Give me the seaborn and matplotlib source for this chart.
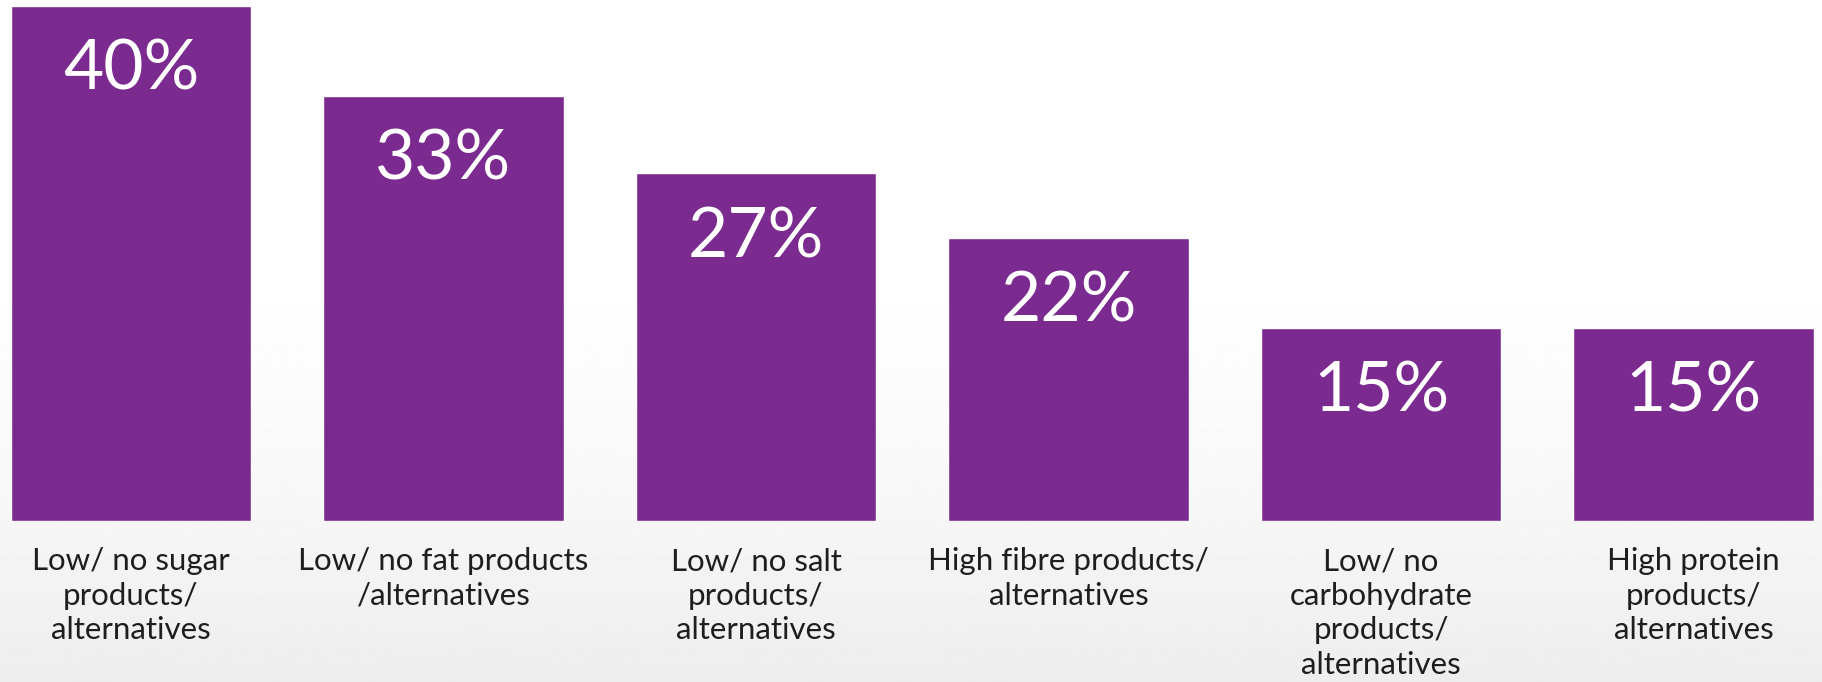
import numpy as np
import pandas as pd
import matplotlib

matplotlib.use('Agg')
import matplotlib.pyplot as plt
import seaborn as sns

# 数据
categories = [
    "Low/ no sugar\nproducts/\nalternatives",
    "Low/ no fat products\n/alternatives",
    "Low/ no salt\nproducts/\nalternatives",
    "High fibre products/\nalternatives",
    "Low/ no\ncarbohydrate\nproducts/\nalternatives",
    "High protein\nproducts/\nalternatives",
]
values = [40, 33, 27, 22, 15, 15]
value_labels = ["40%", "33%", "27%", "22%", "15%", "15%"]

bar_color = "#7b2a90"
text_color = "#1e1e1e"

sns.set_style("white")
plt.rcParams['font.family'] = ['Lato', 'DejaVu Sans']

df = pd.DataFrame({"category": categories, "value": values})

fig = plt.figure(figsize=(18.22, 6.82), dpi=100)

# 背景: 底部浅灰渐变
bg = fig.add_axes([0, 0, 1, 1], zorder=0)
grad = np.linspace(0, 1, 256).reshape(-1, 1)
grad = np.clip((grad - 0.35) / 0.65, 0, 1) ** 1.5
bg.imshow(1 - 0.07 * grad, cmap="gray", vmin=0, vmax=1, aspect="auto",
          extent=[0, 1, 0, 1], origin="upper")
bg.axis("off")

ax = fig.add_axes([0, 161 / 682, 1, 515 / 682], zorder=1)
ax.patch.set_alpha(0)
sns.barplot(data=df, x="category", y="value", color=bar_color, width=0.77,
            saturation=1, ax=ax)

for i, (v, lab) in enumerate(zip(values, value_labels)):
    ax.text(i, v - 5, lab, ha="center", va="center", color="white",
            fontsize=50, fontweight="normal")

ax.set_xlim(-0.419, 5.411)
ax.set_ylim(0, 40)
ax.set_xlabel("")
ax.set_ylabel("")
ax.set_yticks([])
ax.tick_params(axis="x", length=0, pad=19, labelsize=22.5, labelcolor=text_color)
for t in ax.get_xticklabels():
    t.set_multialignment("center")
    t.set_linespacing(1.28)
sns.despine(ax=ax, left=True, bottom=True)

plt.savefig("out.png", dpi=100)
plt.close()
